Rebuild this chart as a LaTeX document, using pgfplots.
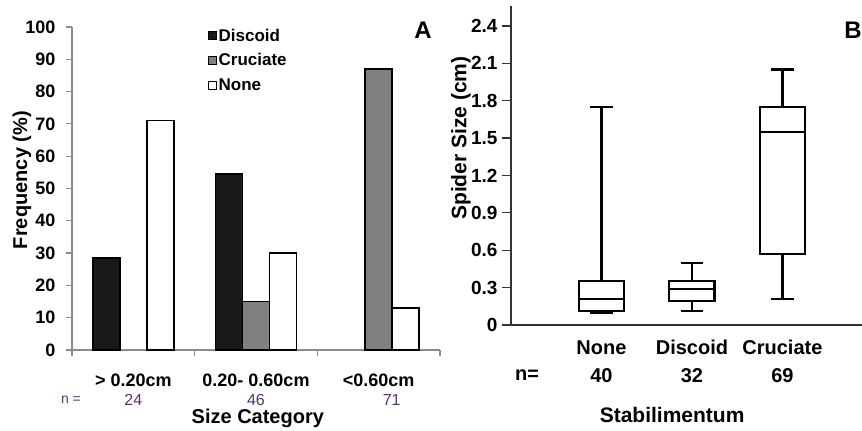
\documentclass[border=0pt]{standalone}
\usepackage{fontspec}
\setmainfont{Liberation Sans}
\usepackage{pgfplots}
\pgfplotsset{compat=1.18}
\usepgfplotslibrary{statistics}
\definecolor{ncol}{RGB}{90,50,110}
\definecolor{axgray}{RGB}{140,140,140}
\definecolor{disc}{RGB}{25,25,25}
\definecolor{cruc}{RGB}{128,128,128}
\pgfplotsset{leg/.style={legend image code/.code={\draw[##1,line width=0.8pt] (0pt,-4pt) rectangle (8pt,4pt);}}}
\begin{document}
\begin{tikzpicture}
\useasboundingbox (0,0) rectangle (862pt,431pt);
% ---------------- Panel A ----------------
\begin{axis}[
  at={(72pt,81pt)}, anchor=south west,
  scale only axis, width=368pt, height=323pt,
  xmin=0, xmax=3, ymin=0, ymax=100,
  axis x line*=bottom, axis y line*=left,
  axis line style={axgray, line width=1.2pt},
  xtick style={draw=axgray, line width=1.2pt},
  ytick style={draw=axgray, line width=1.2pt},
  xtick align=outside, ytick align=outside,
  xtick pos=bottom, ytick pos=left,
  major tick length=6pt,
  ytick={0,10,...,100},
  yticklabel style={font=\fontsize{18}{18}\selectfont\bfseries, xshift=-7pt},
  /pgf/number format/assume math mode=true,
  xtick={0,1,2,3}, xticklabels={},
  extra x ticks={0.5,1.5,2.5},
  extra x tick labels={{\fontsize{18}{20}\selectfont\bfseries\strut > 0.20cm\\[-2pt]\fontsize{16}{20}\selectfont\color{ncol}\strut 24},
                       {\fontsize{18}{20}\selectfont\bfseries\strut 0.20- 0.60cm\\[-2pt]\fontsize{16}{20}\selectfont\color{ncol}\strut 46},
                       {\fontsize{18}{20}\selectfont\bfseries\strut <0.60cm\\[-2pt]\fontsize{16}{20}\selectfont\color{ncol}\strut\hspace*{26pt}71}},
  extra x tick style={major tick length=0pt, tick label style={align=center, yshift=-19pt}},
  ybar=0pt, bar width=27pt,
  xlabel={Size Category},
  xlabel style={at={(rel axis cs:0.505,0)}, anchor=center, yshift=-68pt, font=\fontsize{20}{20}\selectfont\bfseries},
  ylabel={Frequency (\%)},
  ylabel style={at={(rel axis cs:0,0.526)}, anchor=center, xshift=0pt, yshift=50pt, font=\fontsize{20}{20}\selectfont\bfseries},
  legend style={at={(rel axis cs:0.37,1.0)}, anchor=north west, draw=none, fill=none,
    font=\fontsize{17}{20}\selectfont\bfseries, row sep=8pt, inner sep=0pt,
    nodes={inner sep=1.5pt}},
  legend cell align=left,
  clip=false,
]
\addplot[leg, fill=disc, draw=black, line width=1.4pt] coordinates {(0.5,28.5) (1.5,54.5)};
\addlegendentry{Discoid}
\addplot[leg, fill=cruc, draw=black, line width=1.4pt] coordinates {(1.5,15) (2.5,87)};
\addlegendentry{Cruciate}
\addplot[leg, fill=white, draw=black, line width=1.4pt] coordinates {(0.5,71) (1.5,30) (2.5,13)};
\addlegendentry{None}
\end{axis}
\node[font=\fontsize{14}{14}\selectfont, text=ncol, anchor=center] at (71pt,31pt) {n =};
\node[font=\fontsize{24}{24}\selectfont\bfseries, anchor=center] at (423pt,401pt) {A};
% ---------------- Panel B ----------------
\begin{axis}[
  at={(511pt,106pt)}, anchor=south west,
  scale only axis, width=351pt, height=319pt,
  xmin=0, xmax=3.88, ymin=0, ymax=2.56,
  axis x line*=bottom, axis y line*=left,
  axis line style={black!80, line width=1.3pt},
  ytick style={draw=black!80, line width=1.3pt},
  ytick align=outside, ytick pos=left,
  major tick length=9pt,
  ytick={0,0.3,0.6,0.9,1.2,1.5,1.8,2.1,2.4},
  yticklabels={0,0.3,0.6,0.9,1.2,1.5,1.8,2.1,2.4},
  yticklabel style={font=\fontsize{19}{19}\selectfont\bfseries, xshift=-1pt},
  xtick={1,2,3},
  xticklabels={{\strut None\\\strut 40},{\strut Discoid\\\strut 32},{\strut Cruciate\\\strut 69}},
  xtick style={draw=none},
  xticklabel style={align=center, font=\fontsize{20}{28}\selectfont\bfseries, yshift=-6pt},
  /pgf/number format/assume math mode=true,
  xlabel={Stabilimentum},
  xlabel style={at={(rel axis cs:0.459,0)}, anchor=center, yshift=-90pt, font=\fontsize{21}{21}\selectfont\bfseries},
  ylabel={Spider Size (cm)},
  ylabel style={at={(rel axis cs:0,0.586)}, anchor=center, xshift=0pt, yshift=50pt, font=\fontsize{21}{21}\selectfont\bfseries},
  boxplot/draw direction=y,
  clip=false,
]
\addplot[black, line width=2.2pt, mark=none, boxplot prepared={lower whisker=0.095, lower quartile=0.115, median=0.21, upper quartile=0.35, upper whisker=1.75, draw position=1, box extend=0.5, whisker extend=0.25}] coordinates {};
\addplot[black, line width=2.2pt, mark=none, boxplot prepared={lower whisker=0.115, lower quartile=0.195, median=0.29, upper quartile=0.35, upper whisker=0.495, draw position=2, box extend=0.5, whisker extend=0.25}] coordinates {};
\addplot[black, line width=2.2pt, mark=none, boxplot prepared={lower whisker=0.21, lower quartile=0.567, median=1.546, upper quartile=1.752, upper whisker=2.05, draw position=3, box extend=0.5, whisker extend=0.25}] coordinates {};
\end{axis}
\node[font=\fontsize{20}{20}\selectfont\bfseries, anchor=center] at (527pt,56pt) {n=};
\node[font=\fontsize{24}{24}\selectfont\bfseries, anchor=center] at (853pt,401pt) {B};
\end{tikzpicture}
\end{document}
